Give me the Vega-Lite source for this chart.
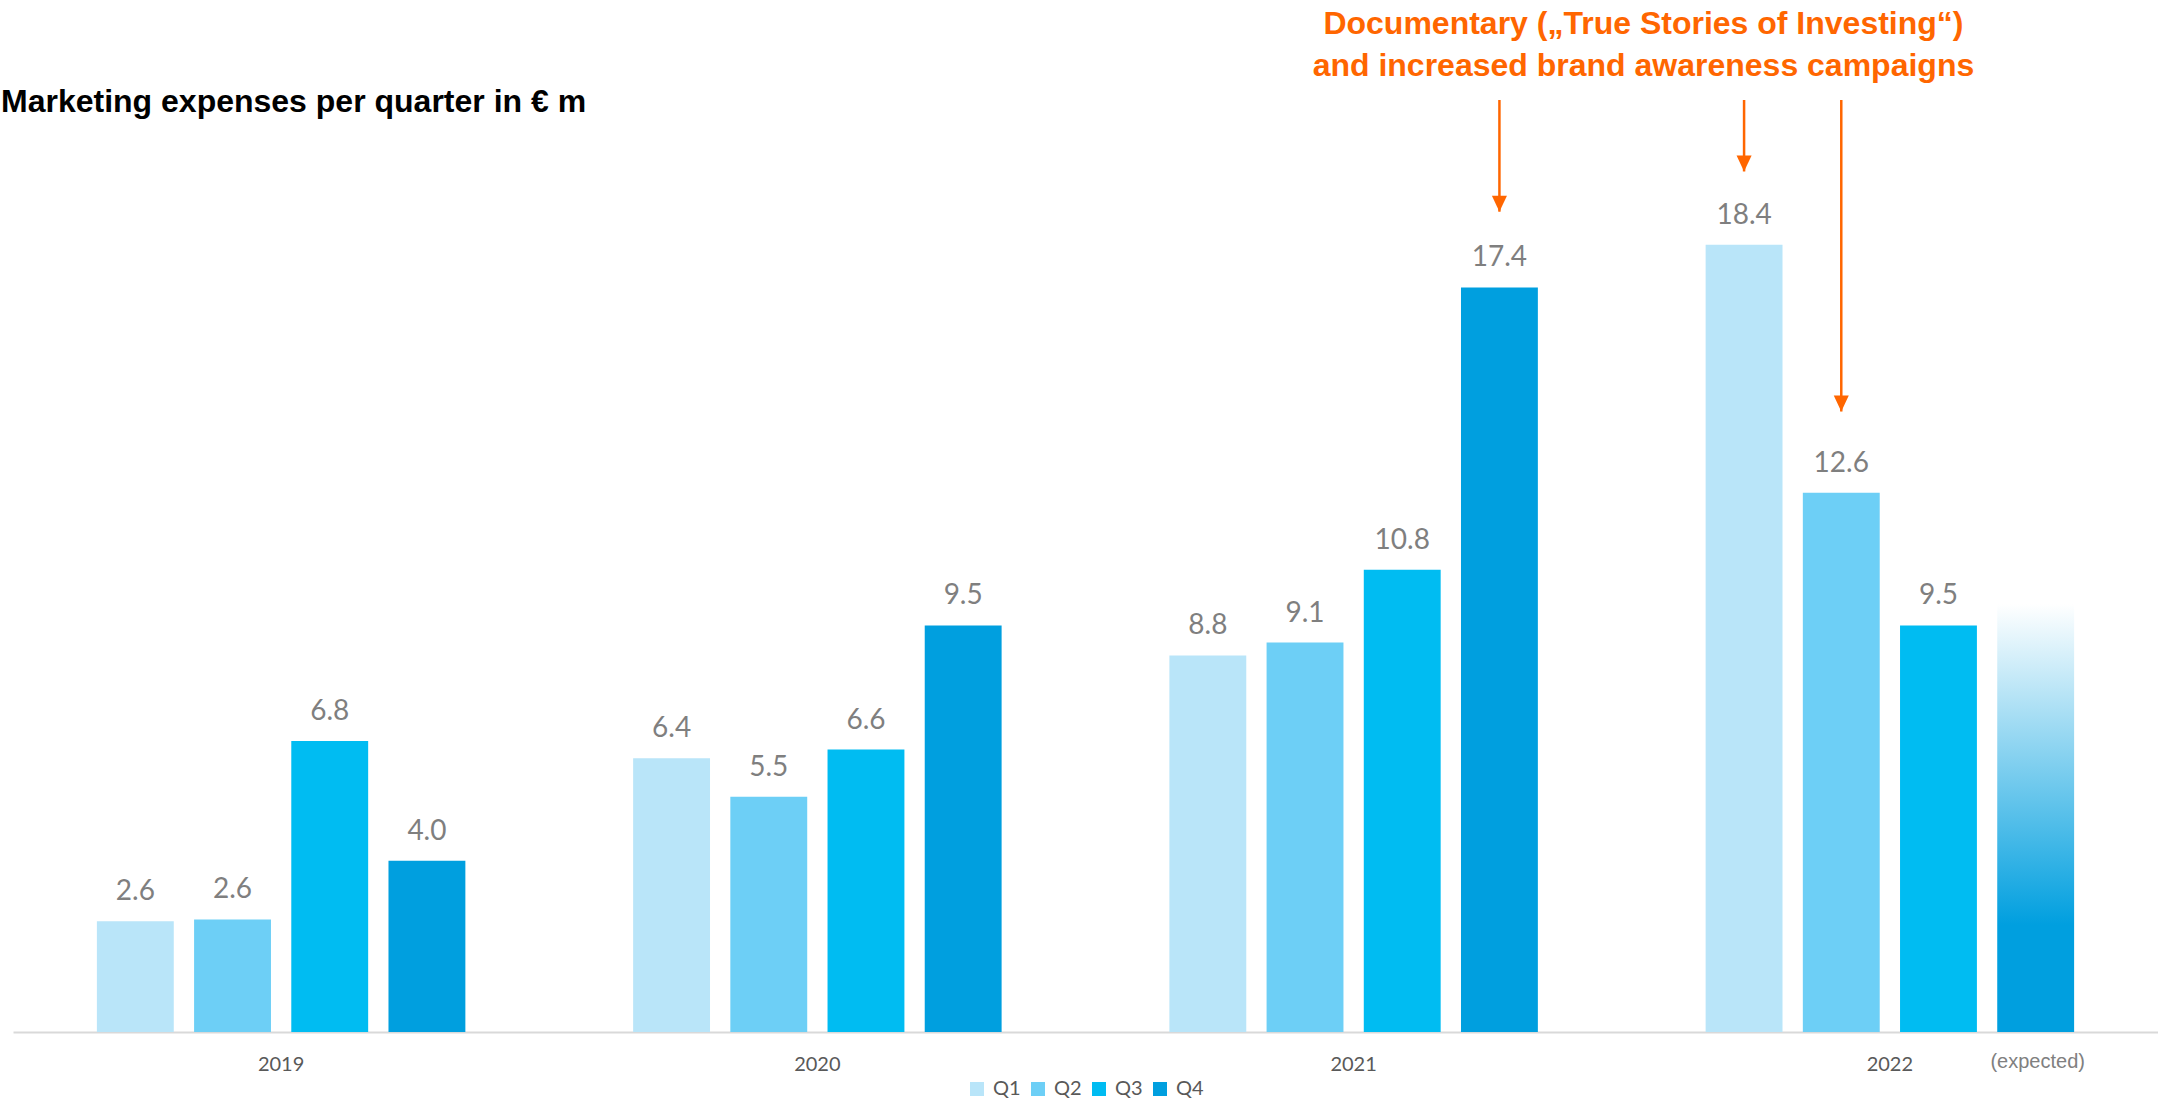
{
  "$schema": "https://vega.github.io/schema/vega-lite/v6.json",
  "width": 2145,
  "height": 1027,
  "autosize": {"type": "none"},
  "padding": {"left": 13, "top": 5, "right": 0, "bottom": 69},
  "background": "white",
  "title": {
    "text": "Marketing expenses per quarter in € m",
    "anchor": "start",
    "orient": "top",
    "offset": 0,
    "dx": -12,
    "dy": 139,
    "baseline": "alphabetic",
    "font": "Liberation Sans",
    "fontSize": 32,
    "fontWeight": "bold",
    "color": "#000000"
  },
  "config": {"view": {"stroke": null}, "font": "Lato"},
  "datasets": {
    "bars": [
      {"year": "2019", "quarter": "Q1", "value": 2.59, "status": "actual"},
      {"year": "2019", "quarter": "Q2", "value": 2.63, "status": "actual"},
      {"year": "2019", "quarter": "Q3", "value": 6.8, "status": "actual"},
      {"year": "2019", "quarter": "Q4", "value": 4.0, "status": "actual"},
      {"year": "2020", "quarter": "Q1", "value": 6.4, "status": "actual"},
      {"year": "2020", "quarter": "Q2", "value": 5.5, "status": "actual"},
      {"year": "2020", "quarter": "Q3", "value": 6.6, "status": "actual"},
      {"year": "2020", "quarter": "Q4", "value": 9.5, "status": "actual"},
      {"year": "2021", "quarter": "Q1", "value": 8.8, "status": "actual"},
      {"year": "2021", "quarter": "Q2", "value": 9.1, "status": "actual"},
      {"year": "2021", "quarter": "Q3", "value": 10.8, "status": "actual"},
      {"year": "2021", "quarter": "Q4", "value": 17.4, "status": "actual"},
      {"year": "2022", "quarter": "Q1", "value": 18.4, "status": "actual"},
      {"year": "2022", "quarter": "Q2", "value": 12.6, "status": "actual"},
      {"year": "2022", "quarter": "Q3", "value": 9.5, "status": "actual"},
      {"year": "2022", "quarter": "Q4", "value": 10.0, "status": "expected"}
    ],
    "arrows": [
      {"year": "2021", "quarter": "Q4", "start": 21.78, "end": 19.17},
      {"year": "2022", "quarter": "Q1", "start": 21.78, "end": 20.11},
      {"year": "2022", "quarter": "Q2", "start": 21.78, "end": 14.5}
    ],
    "notes": [
      {"year": "2021", "quarter": "Q4", "pos": 23.32, "label": "Documentary („True Stories of Investing“)\nand increased brand awareness campaigns"}
    ]
  },
  "layer": [
    {
      "data": {"name": "bars"},
      "transform": [{"filter": "datum.status === 'actual'"}],
      "mark": {"type": "bar"},
      "encoding": {
        "x": {
          "field": "year", "type": "nominal",
          "scale": {"domain": ["2019", "2020", "2021", "2022"], "paddingInner": 0, "paddingOuter": 0},
          "axis": {"title": null, "labelAngle": 0, "ticks": false, "tickSize": 0, "grid": false, "domainColor": "#D9D9D9", "domainWidth": 2, "labelFont": "Lato", "labelFontSize": 20, "labelColor": "#595959", "labelPadding": 22}
        },
        "xOffset": {
          "field": "quarter", "type": "nominal",
          "scale": {"domain": ["Q1", "Q2", "Q3", "Q4"], "paddingInner": 0.209, "paddingOuter": 0.863}
        },
        "y": {"field": "value", "type": "quantitative", "scale": {"domain": [0, 24]}, "axis": null},
        "color": {
          "field": "quarter", "type": "nominal",
          "scale": {"domain": ["Q1", "Q2", "Q3", "Q4"], "range": ["#B9E5F9", "#6DCFF6", "#00BCF2", "#009FDF"]},
          "legend": {
            "orient": "none", "legendX": 954, "legendY": 1074, "direction": "horizontal",
            "title": null, "symbolType": "square", "symbolSize": 196, "symbolStrokeWidth": 0,
            "labelFont": "Lato", "labelFontSize": 20, "labelColor": "#595959",
            "labelOffset": 6, "columnPadding": 7, "padding": 0
          }
        }
      }
    },
    {
      "data": {"name": "bars"},
      "transform": [{"filter": "datum.status === 'expected'"}],
      "mark": {
        "type": "bar",
        "fill": {
          "gradient": "linear", "x1": 0, "y1": 0, "x2": 0, "y2": 1,
          "stops": [
            {"offset": 0, "color": "#FFFFFF"},
            {"offset": 0.75, "color": "#009FDF"},
            {"offset": 1, "color": "#009FDF"}
          ]
        }
      },
      "encoding": {
        "x": {"field": "year", "type": "nominal"},
        "xOffset": {"field": "quarter", "type": "nominal"},
        "y": {"field": "value", "type": "quantitative", "axis": null}
      }
    },
    {
      "data": {"name": "bars"},
      "transform": [{"filter": "datum.status === 'actual'"}],
      "mark": {"type": "text", "baseline": "alphabetic", "align": "center", "dy": -21, "font": "Lato", "fontSize": 28, "color": "#7F7F7F"},
      "encoding": {
        "x": {"field": "year", "type": "nominal"},
        "xOffset": {"field": "quarter", "type": "nominal"},
        "y": {"field": "value", "type": "quantitative", "axis": null},
        "text": {"field": "value", "type": "quantitative", "format": ".1f"}
      }
    },
    {
      "data": {"name": "bars"},
      "transform": [{"filter": "datum.status === 'expected'"}],
      "mark": {"type": "text", "text": "(expected)", "baseline": "alphabetic", "align": "center", "dx": 2, "dy": 36, "font": "Liberation Sans", "fontSize": 20, "color": "#808080"},
      "encoding": {
        "x": {"field": "year", "type": "nominal"},
        "xOffset": {"field": "quarter", "type": "nominal"},
        "y": {"datum": 0, "type": "quantitative", "axis": null}
      }
    },
    {
      "data": {"name": "arrows"},
      "mark": {"type": "rule", "color": "#FF6600", "strokeWidth": 2.5},
      "encoding": {
        "x": {"field": "year", "type": "nominal"},
        "xOffset": {"field": "quarter", "type": "nominal"},
        "y": {"field": "start", "type": "quantitative", "axis": null},
        "y2": {"field": "end"}
      }
    },
    {
      "data": {"name": "arrows"},
      "mark": {"type": "point", "shape": "M-0.94,-2L0.94,-2L0,0Z", "size": 256, "filled": true, "color": "#FF6600", "opacity": 1, "strokeWidth": 0},
      "encoding": {
        "x": {"field": "year", "type": "nominal"},
        "xOffset": {"field": "quarter", "type": "nominal"},
        "y": {"field": "end", "type": "quantitative", "axis": null}
      }
    },
    {
      "data": {"name": "notes"},
      "mark": {"type": "text", "align": "center", "baseline": "alphabetic", "lineBreak": "\n", "lineHeight": 42, "dx": 144, "font": "Liberation Sans", "fontSize": 32, "fontWeight": "bold", "color": "#FF6600"},
      "encoding": {
        "x": {"field": "year", "type": "nominal"},
        "xOffset": {"field": "quarter", "type": "nominal"},
        "y": {"field": "pos", "type": "quantitative", "axis": null},
        "text": {"field": "label", "type": "nominal"}
      }
    }
  ]
}
